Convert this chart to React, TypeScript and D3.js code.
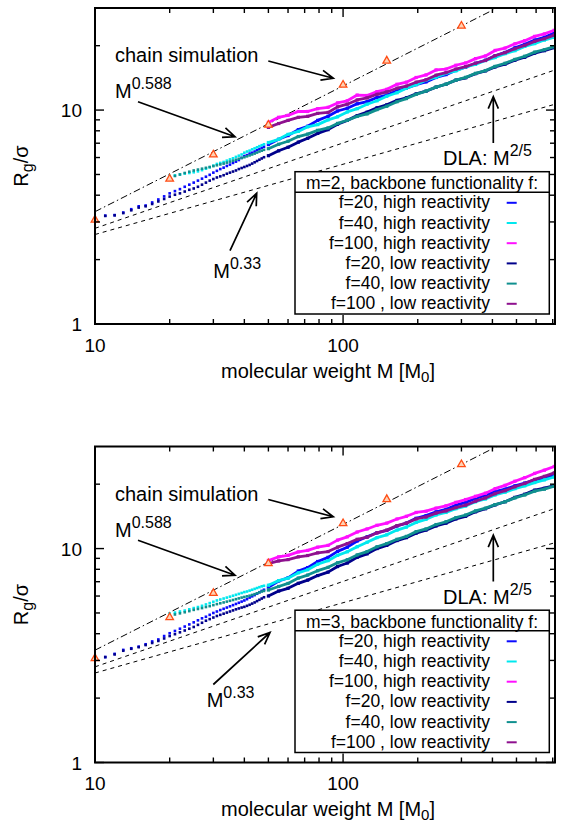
import React from "react";
import * as d3 from "d3";

const FONT = "'Liberation Sans', Arial, Helvetica, sans-serif";

// ---------- axes ----------
const X_DOMAIN = [10, 715];
const Y_DOMAIN = [1, 30];
const X_MAJOR = [10, 100];
const X_MINOR = [20, 30, 40, 50, 60, 70, 80, 90, 200, 300, 400, 500, 600, 700];
const Y_MAJOR = [1, 10];
const Y_MINOR = [2, 3, 4, 5, 6, 7, 8, 9, 20];

// ---------- molecular weights ----------
const M_SPARSE_F20 = [11, 12, 13, 14, 15, 16, 17, 18, 19, 20, 21, 22, 23, 24, 25, 26, 27, 28, 29, 30, 31, 32, 33, 34, 35, 36, 37, 38, 39, 40, 41, 42, 43, 44, 45, 46, 47, 48];
const M_SPARSE_F40 = [20, 21, 22, 23, 24, 25, 26, 27, 28, 29, 30, 31, 32, 33, 34, 35, 36, 37, 38, 39, 40, 41, 42, 43, 44, 45, 46, 47, 48];
const M_DENSE = [50, 55, 60, 66, 72, 79, 87, 95, 104, 114, 125, 137, 150, 165, 180, 197, 216, 237, 260, 285, 312, 342, 375, 410, 450, 493, 540, 592, 648, 710];

// ---------- chain simulation (triangles) ----------
const CHAIN_M = [10, 20, 30, 50, 100, 150, 300];
const CHAIN_RG = [3.09, 4.8, 6.23, 8.58, 13.2, 17.1, 24.9];

// ---------- power-law guide lines (end points) ----------
const LINE_CHAIN = [[10, 3.35], [715, 41.2]];
const LINE_DLA = [[10, 2.8], [715, 15.4]];
const LINE_033 = [[10, 2.62], [715, 10.65]];

// ---------- legend ----------
const LEGEND_LABELS = [
  "f=20, high reactivity",
  "f=40, high reactivity",
  "f=100, high reactivity",
  "f=20, low reactivity",
  "f=40, low reactivity",
  "f=100 , low reactivity",
];
const SERIES_COLORS = ["#0a0aff", "#00e8ee", "#ff10ff", "#00008b", "#10908f", "#8e108e"];

// ---------- top panel (m=2) ----------
const TOP_F20_HIGH_SPARSE = [3.21, 3.23, 3.32, 3.44, 3.55, 3.58, 3.7, 3.82, 3.95, 4.08, 4.18, 4.27, 4.38, 4.48, 4.58, 4.68, 4.78, 4.88, 4.98, 5.1, 5.2, 5.3, 5.38, 5.48, 5.56, 5.66, 5.74, 5.84, 5.98, 6.1, 6.16, 6.26, 6.32, 6.4, 6.5, 6.58, 6.66, 6.74];
const TOP_F20_HIGH_DENSE = [6.9, 7.3, 7.6, 8.1, 8.4, 8.95, 9.35, 9.9, 10.2, 10.7, 10.95, 11.45, 11.75, 12.3, 12.65, 13.15, 13.55, 14.2, 14.65, 15.35, 15.85, 16.55, 17.1, 17.95, 18.6, 19.55, 20.3, 21.25, 21.9, 22.9];
const TOP_F40_HIGH_SPARSE = [4.92, 4.95, 5.0, 5.05, 5.08, 5.12, 5.17, 5.24, 5.32, 5.4, 5.5, 5.6, 5.66, 5.72, 5.8, 5.88, 5.95, 6.04, 6.12, 6.2, 6.32, 6.4, 6.46, 6.55, 6.62, 6.7, 6.78, 6.85, 6.92];
const TOP_F40_HIGH_DENSE = [7.05, 7.3, 7.7, 7.95, 8.35, 8.55, 9.0, 9.3, 9.8, 10.15, 10.65, 11.05, 11.6, 12.05, 12.65, 13.15, 13.8, 14.25, 14.85, 15.25, 15.9, 16.35, 17.05, 17.6, 18.35, 18.95, 19.85, 20.45, 21.25, 21.9];
const TOP_F100_HIGH_DENSE = [8.75, 9.25, 9.45, 9.85, 9.85, 10.15, 10.3, 10.8, 11.05, 11.75, 11.7, 12.2, 12.5, 13.2, 13.5, 14.2, 14.6, 15.4, 15.55, 16.2, 16.6, 17.4, 17.9, 19.0, 19.5, 20.4, 21.1, 22.1, 22.7, 23.6];
const TOP_F20_LOW_SPARSE = [3.2, 3.22, 3.3, 3.4, 3.5, 3.55, 3.64, 3.74, 3.84, 3.94, 4.02, 4.08, 4.16, 4.24, 4.3, 4.38, 4.48, 4.58, 4.68, 4.76, 4.84, 4.9, 4.96, 5.04, 5.1, 5.16, 5.22, 5.3, 5.36, 5.42, 5.48, 5.54, 5.62, 5.7, 5.78, 5.86, 5.94, 6.02];
const TOP_F20_LOW_DENSE = [6.12, 6.45, 6.7, 7.08, 7.38, 7.78, 8.1, 8.58, 8.95, 9.42, 9.78, 10.25, 10.58, 11.1, 11.42, 11.9, 12.25, 12.8, 13.2, 13.8, 14.15, 14.8, 15.25, 15.9, 16.4, 17.1, 17.65, 18.45, 18.95, 19.6];
const TOP_F40_LOW_SPARSE = [4.86, 4.92, 5.0, 5.08, 5.15, 5.22, 5.27, 5.32, 5.37, 5.42, 5.47, 5.52, 5.57, 5.62, 5.68, 5.74, 5.8, 5.86, 5.92, 5.97, 6.02, 6.08, 6.14, 6.2, 6.26, 6.33, 6.4, 6.46, 6.52];
const TOP_F40_LOW_DENSE = [6.6, 6.92, 7.15, 7.52, 7.72, 8.04, 8.25, 8.66, 8.96, 9.34, 9.6, 10.05, 10.42, 10.94, 11.32, 11.84, 12.27, 12.8, 13.22, 13.8, 14.22, 14.85, 15.3, 16.0, 16.55, 17.25, 17.85, 18.65, 19.15, 19.8];
const TOP_F100_LOW_DENSE = [8.3, 8.65, 8.95, 9.25, 9.35, 9.65, 9.75, 10.35, 10.65, 11.15, 11.4, 11.85, 12.15, 12.65, 12.95, 13.5, 13.85, 14.55, 14.95, 15.55, 15.95, 16.55, 17.05, 17.95, 18.55, 19.35, 20.05, 20.95, 21.55, 22.4];

// ---------- bottom panel (m=3) ----------
const BOT_F20_HIGH_SPARSE = [3.11, 3.22, 3.36, 3.42, 3.48, 3.57, 3.68, 3.76, 3.9, 4.02, 4.12, 4.22, 4.32, 4.42, 4.52, 4.62, 4.72, 4.8, 4.9, 5.0, 5.08, 5.16, 5.23, 5.3, 5.37, 5.44, 5.51, 5.58, 5.65, 5.72, 5.8, 5.9, 5.98, 6.06, 6.15, 6.25, 6.34, 6.42];
const BOT_F20_HIGH_DENSE = [6.6, 7.05, 7.3, 7.85, 8.15, 8.7, 9.1, 9.7, 10.15, 10.85, 11.35, 11.85, 12.15, 12.75, 13.15, 13.85, 14.25, 14.85, 15.25, 15.95, 16.45, 17.15, 17.75, 18.45, 18.95, 19.65, 20.25, 20.95, 21.35, 22.0];
const BOT_F40_HIGH_SPARSE = [4.97, 5.02, 5.08, 5.13, 5.2, 5.27, 5.33, 5.4, 5.48, 5.56, 5.64, 5.72, 5.78, 5.84, 5.9, 5.96, 6.02, 6.08, 6.14, 6.2, 6.26, 6.3, 6.36, 6.42, 6.48, 6.54, 6.6, 6.66, 6.7];
const BOT_F40_HIGH_DENSE = [6.74, 7.08, 7.27, 7.7, 7.96, 8.45, 8.78, 9.3, 9.66, 10.2, 10.7, 11.25, 11.6, 12.2, 12.6, 13.25, 13.7, 14.35, 14.75, 15.35, 15.8, 16.55, 17.05, 17.8, 18.35, 19.05, 19.65, 20.35, 20.95, 21.6];
const BOT_F100_HIGH_DENSE = [8.8, 9.15, 9.3, 9.65, 9.8, 10.15, 10.35, 10.95, 11.35, 11.95, 12.35, 12.85, 13.15, 13.75, 14.15, 14.75, 14.95, 15.45, 15.85, 16.45, 16.95, 17.55, 18.15, 19.05, 19.75, 20.65, 21.45, 22.45, 23.25, 24.2];
const BOT_F20_LOW_SPARSE = [3.11, 3.2, 3.33, 3.4, 3.46, 3.54, 3.62, 3.7, 3.8, 3.9, 3.98, 4.06, 4.14, 4.22, 4.3, 4.4, 4.5, 4.6, 4.68, 4.76, 4.84, 4.9, 4.96, 5.02, 5.08, 5.14, 5.2, 5.25, 5.3, 5.34, 5.4, 5.46, 5.53, 5.6, 5.68, 5.76, 5.84, 5.92];
const BOT_F20_LOW_DENSE = [6.0, 6.33, 6.52, 6.88, 7.12, 7.48, 7.76, 8.24, 8.56, 9.1, 9.45, 10.0, 10.35, 10.9, 11.25, 11.8, 12.2, 12.75, 13.15, 13.75, 14.15, 14.85, 15.35, 16.0, 16.55, 17.35, 17.95, 18.75, 19.15, 19.7];
const BOT_F40_LOW_SPARSE = [4.86, 4.92, 4.98, 5.04, 5.1, 5.17, 5.22, 5.27, 5.33, 5.38, 5.44, 5.5, 5.55, 5.6, 5.65, 5.7, 5.75, 5.8, 5.85, 5.9, 5.94, 5.98, 6.02, 6.07, 6.12, 6.18, 6.24, 6.3, 6.34];
const BOT_F40_LOW_DENSE = [6.4, 6.65, 6.87, 7.28, 7.52, 7.88, 8.17, 8.58, 8.87, 9.34, 9.68, 10.2, 10.55, 11.05, 11.4, 12.0, 12.35, 12.95, 13.35, 13.95, 14.35, 15.0, 15.45, 16.05, 16.55, 17.25, 17.8, 18.55, 18.95, 19.6];
const BOT_F100_LOW_DENSE = [8.5, 8.75, 8.88, 9.15, 9.28, 9.55, 9.68, 10.15, 10.55, 11.05, 11.3, 11.85, 12.2, 12.8, 13.15, 13.75, 14.05, 14.65, 15.0, 15.55, 15.95, 16.65, 17.25, 18.05, 18.65, 19.45, 20.15, 21.05, 21.75, 22.6];

type Series = { sparseM: number[]; sparse: number[]; dense: number[] };

const TOP_SERIES: Series[] = [
  { sparseM: M_SPARSE_F20, sparse: TOP_F20_HIGH_SPARSE, dense: TOP_F20_HIGH_DENSE },
  { sparseM: M_SPARSE_F40, sparse: TOP_F40_HIGH_SPARSE, dense: TOP_F40_HIGH_DENSE },
  { sparseM: [], sparse: [], dense: TOP_F100_HIGH_DENSE },
  { sparseM: M_SPARSE_F20, sparse: TOP_F20_LOW_SPARSE, dense: TOP_F20_LOW_DENSE },
  { sparseM: M_SPARSE_F40, sparse: TOP_F40_LOW_SPARSE, dense: TOP_F40_LOW_DENSE },
  { sparseM: [], sparse: [], dense: TOP_F100_LOW_DENSE },
];
const BOT_SERIES: Series[] = [
  { sparseM: M_SPARSE_F20, sparse: BOT_F20_HIGH_SPARSE, dense: BOT_F20_HIGH_DENSE },
  { sparseM: M_SPARSE_F40, sparse: BOT_F40_HIGH_SPARSE, dense: BOT_F40_HIGH_DENSE },
  { sparseM: [], sparse: [], dense: BOT_F100_HIGH_DENSE },
  { sparseM: M_SPARSE_F20, sparse: BOT_F20_LOW_SPARSE, dense: BOT_F20_LOW_DENSE },
  { sparseM: M_SPARSE_F40, sparse: BOT_F40_LOW_SPARSE, dense: BOT_F40_LOW_DENSE },
  { sparseM: [], sparse: [], dense: BOT_F100_LOW_DENSE },
];

// ---------- layout ----------
const L = 95, R = 555, T = 8, B = 324;

function Arrow({ x1, y1, x2, y2 }: { x1: number; y1: number; x2: number; y2: number }) {
  const ang = Math.atan2(y2 - y1, x2 - x1);
  const len = 13, a = 0.4;
  const h1x = x2 - len * Math.cos(ang - a), h1y = y2 - len * Math.sin(ang - a);
  const h2x = x2 - len * Math.cos(ang + a), h2y = y2 - len * Math.sin(ang + a);
  return (
    <path
      d={`M${x1},${y1}L${x2},${y2}M${h1x},${h1y}L${x2},${y2}L${h2x},${h2y}`}
      fill="none"
      stroke="#000"
      strokeWidth={1.7}
    />
  );
}

function Panel({
  series, header, clipId, m033,
}: {
  series: Series[]; header: string; clipId: string;
  m033: { ax1: number; ay1: number; ax2: number; ay2: number; tx: number; ty: number };
}) {
  const x = d3.scaleLog().domain(X_DOMAIN).range([L, R]);
  const y = d3.scaleLog().domain(Y_DOMAIN).range([B, T]);
  const line = d3.line<[number, number]>().x((d) => x(d[0])).y((d) => y(d[1]));

  const guide = (pts: number[][], dash: string, key: string) => (
    <path key={key} d={line(pts as [number, number][]) || ""} fill="none" stroke="#000" strokeWidth={1} strokeDasharray={dash} clipPath={`url(#${clipId})`} />
  );

  const tri = (cx: number, cy: number, i: number) => {
    const s = 3.8;
    return (
      <path key={i} d={`M${cx},${cy - s}L${cx + s},${cy + s * 0.75}L${cx - s},${cy + s * 0.75}Z`} fill="#ffd2b4" stroke="#ff4c14" strokeWidth={1.3} />
    );
  };

  const legendY0 = 208.3, legendDy = 20.2;

  return (
    <g>
      <defs>
        <clipPath id={clipId}>
          <rect x={L} y={T} width={R - L} height={B - T} />
        </clipPath>
      </defs>
      {guide(LINE_CHAIN, "7,3,1.5,3", "chain")}
      {guide(LINE_DLA, "4,4", "dla")}
      {guide(LINE_033, "4,4", "m033")}

      <g clipPath={`url(#${clipId})`}>
        {series.map((s, si) => {
          const col = SERIES_COLORS[si];
          const sparsePts = s.sparseM.map((m, i) => [m, s.sparse[i]] as [number, number]).filter((d) => d[1] != null);
          const densePts = M_DENSE.map((m, i) => [m, s.dense[i]] as [number, number]).filter((d) => d[1] != null);
          return (
            <g key={si}>
              {sparsePts.map((d, i) => (
                <rect key={"s" + i} x={x(d[0]) - 1.3} y={y(d[1]) - 1.3} width={2.6} height={2.6} fill={col} />
              ))}
              <path d={line(densePts) || ""} fill="none" stroke={col} strokeWidth={2.8} strokeLinejoin="round" />
              {densePts.map((d, i) => (
                <rect key={"d" + i} x={x(d[0]) - 1.6} y={y(d[1]) - 1.6} width={3.2} height={3.2} fill={col} />
              ))}
            </g>
          );
        })}
      </g>

      {CHAIN_M.map((m, i) => tri(x(m), y(CHAIN_RG[i]), i))}

      {X_MAJOR.concat(X_MINOR).map((v, i) => {
        const len = X_MAJOR.includes(v) ? 9 : 5;
        const px = x(v);
        return (
          <g key={"xt" + i}>
            <line x1={px} x2={px} y1={B} y2={B - len} stroke="#000" strokeWidth={1.4} />
            <line x1={px} x2={px} y1={T} y2={T + len} stroke="#000" strokeWidth={1.4} />
          </g>
        );
      })}
      {Y_MAJOR.concat(Y_MINOR).map((v, i) => {
        const len = Y_MAJOR.includes(v) ? 9 : 5;
        const py = y(v);
        return (
          <g key={"yt" + i}>
            <line x1={L} x2={L + len} y1={py} y2={py} stroke="#000" strokeWidth={1.4} />
            <line x1={R} x2={R - len} y1={py} y2={py} stroke="#000" strokeWidth={1.4} />
          </g>
        );
      })}
      {X_MAJOR.map((v) => (
        <text key={"xl" + v} x={x(v)} y={B + 27.7} textAnchor="middle" fontSize={19} fontFamily={FONT}>{v}</text>
      ))}
      {Y_MAJOR.map((v) => (
        <text key={"yl" + v} x={82} y={y(v) + 7} textAnchor="end" fontSize={19} fontFamily={FONT}>{v}</text>
      ))}

      <text x={115} y={62.3} fontSize={20} fontFamily={FONT}>chain simulation</text>
      <Arrow x1={268.3} y1={61} x2={333.3} y2={78.3} />
      <text x={115} y={98.3} fontSize={20} fontFamily={FONT}>
        M<tspan dy={-9} fontSize={16}>0.588</tspan>
      </text>
      <Arrow x1={138} y1={101.7} x2={235} y2={136.7} />
      <text x={m033.tx} y={m033.ty} fontSize={20} fontFamily={FONT}>
        M<tspan dy={-9} fontSize={16}>0.33</tspan>
      </text>
      <Arrow x1={m033.ax1} y1={m033.ay1} x2={m033.ax2} y2={m033.ay2} />
      <text x={443} y={165} fontSize={20} fontFamily={FONT}>
        DLA: M<tspan dy={-9} fontSize={16}>2/5</tspan>
      </text>
      <Arrow x1={493.3} y1={143} x2={493.3} y2={96.7} />

      <rect x={295} y={171.7} width={254.3} height={142.3} fill="#fff" stroke="#000" strokeWidth={1.5} />
      <line x1={295} x2={549.3} y1={192.3} y2={192.3} stroke="#000" strokeWidth={1.5} />
      <text x={422} y={189.3} textAnchor="middle" fontSize={17.5} fontFamily={FONT}>{header}</text>
      {LEGEND_LABELS.map((lab, i) => (
        <g key={"lg" + i}>
          <text x={490} y={legendY0 + i * legendDy} textAnchor="end" fontSize={17.5} fontFamily={FONT}>{lab}</text>
          <line x1={506.7} x2={516.7} y1={legendY0 + i * legendDy - 5.5} y2={legendY0 + i * legendDy - 5.5} stroke={SERIES_COLORS[i]} strokeWidth={2} />
        </g>
      ))}

      <rect x={L} y={T} width={R - L} height={B - T} fill="none" stroke="#000" strokeWidth={2} />

      <text x={328} y={377.5} textAnchor="middle" fontSize={20} fontFamily={FONT}>
        molecular weight M [M<tspan dy={4} fontSize={15}>0</tspan><tspan dy={-4}>]</tspan>
      </text>
      <text transform="translate(28,166) rotate(-90)" textAnchor="middle" fontSize={20} fontFamily={FONT}>
        R<tspan dy={5} fontSize={16}>g</tspan><tspan dy={-5}>/σ</tspan>
      </text>
    </g>
  );
}

export default function App() {
  return (
    <svg
      width={567}
      height={823}
      viewBox="0 0 567 823"
      style={{ position: "absolute", left: 0, top: 0, background: "#fff" }}
    >
      <rect x={0} y={0} width={567} height={823} fill="#fff" />
      <Panel
        series={TOP_SERIES}
        header="m=2, backbone functionality f:"
        clipId="clipTop"
        m033={{ ax1: 230, ay1: 250.7, ax2: 256.7, ay2: 193.3, tx: 213.3, ty: 278.3 }}
      />
      <g transform="translate(0,438.5)">
        <Panel
          series={BOT_SERIES}
          header="m=3, backbone functionality f:"
          clipId="clipBot"
          m033={{ ax1: 213.3, ay1: 246, ax2: 270, ay2: 194, tx: 206.7, ty: 268.4 }}
        />
      </g>
    </svg>
  );
}
